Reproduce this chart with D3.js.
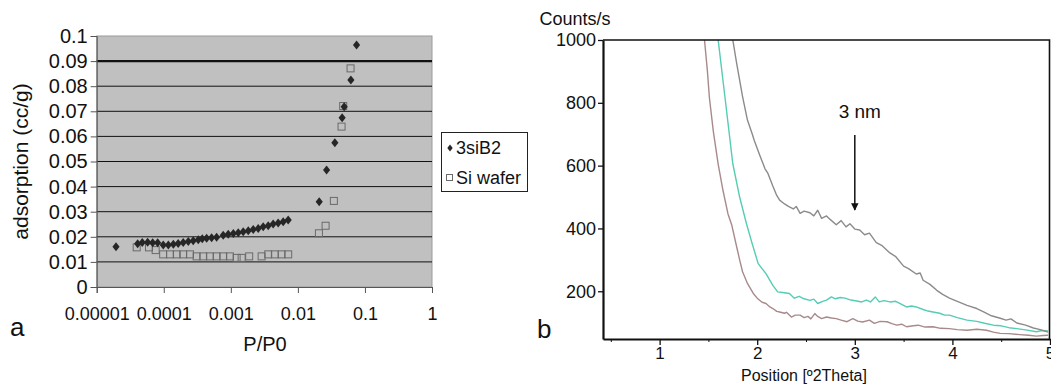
<!DOCTYPE html>
<html>
<head>
<meta charset="utf-8">
<script src="https://cdn.jsdelivr.net/npm/d3@7"></script>
<style>
  body { margin: 0; background: #fff; }
  svg { display: block; font-family: "Liberation Sans", Arial, sans-serif; }
</style>
</head>
<body>
<div id="chart"></div>
<script>
// ---- panel a: adsorption isotherm ----
var xTicksA = [0.00001, 0.0001, 0.001, 0.01, 0.1, 1];
var xTickLabelsA = ['0.00001', '0.0001', '0.001', '0.01', '0.1', '1'];
var yTicksA = [0, 0.01, 0.02, 0.03, 0.04, 0.05, 0.06, 0.07, 0.08, 0.09, 0.1];
var yTickLabelsA = ['0', '0.01', '0.02', '0.03', '0.04', '0.05', '0.06', '0.07', '0.08', '0.09', '0.1'];
var seriesNamesA = ['3siB2', 'Si wafer'];

var siB2P = [1.94e-5, 4.08e-5, 4.78e-5, 5.75e-5, 6.83e-5, 8.11e-5, 9.83e-5, 1.17e-4, 1.39e-4, 1.64e-4,
  1.95e-4, 2.32e-4, 2.75e-4, 3.27e-4, 3.75e-4, 4.36e-4, 5.17e-4, 6.14e-4, 7.7e-4, 9.15e-4,
  1.09e-3, 1.29e-3, 1.53e-3, 1.82e-3, 2.16e-3, 2.56e-3, 3.04e-3, 3.61e-3, 4.28e-3, 5.08e-3,
  6.04e-3, 7.17e-3, 0.0208, 0.0268, 0.0356, 0.0457, 0.049, 0.0617, 0.075];
var siB2V = [0.016, 0.0172, 0.0177, 0.0178, 0.0176, 0.0176, 0.0167, 0.0167, 0.017, 0.0173,
  0.0177, 0.0181, 0.0184, 0.0188, 0.0192, 0.0194, 0.0196, 0.0198, 0.0206, 0.021,
  0.0213, 0.0216, 0.022, 0.0224, 0.0229, 0.0233, 0.024, 0.0244, 0.0251, 0.0255,
  0.026, 0.0267, 0.034, 0.0466, 0.0575, 0.0674, 0.0718, 0.0825, 0.0964];

var waferP = [3.95e-5, 6.02e-5, 7.57e-5, 9.8e-5, 1.24e-4, 1.56e-4, 1.95e-4, 2.46e-4, 3.09e-4, 3.88e-4,
  4.88e-4, 6.14e-4, 7.71e-4, 9.7e-4, 1.22e-3, 1.45e-3, 1.88e-3, 2.88e-3, 3.61e-3, 4.54e-3,
  5.71e-3, 7.17e-3, 0.0206, 0.0259, 0.0344, 0.0448, 0.0474, 0.061];
var waferV = [0.0158, 0.0158, 0.0147, 0.013, 0.013, 0.013, 0.013, 0.013, 0.0122, 0.0122,
  0.0122, 0.0122, 0.0122, 0.0122, 0.0116, 0.0116, 0.0122, 0.0122, 0.013, 0.013,
  0.013, 0.013, 0.0214, 0.0244, 0.0343, 0.0639, 0.0721, 0.0871];

// ---- panel b: XRD counts ----
var xTicksB = [1, 2, 3, 4, 5];
var xMinorTicksB = [0.5, 1.5, 2.5, 3.5, 4.5];
var yTicksB = [200, 400, 600, 800, 1000];

var upperTheta = [1.75, 1.79, 1.85, 1.90, 1.95, 1.97, 2.03, 2.08, 2.11, 2.16, 2.20, 2.23, 2.28, 2.32, 2.37,
  2.40, 2.44, 2.48, 2.54, 2.58, 2.62, 2.66, 2.71, 2.75, 2.81, 2.86, 2.91, 2.95, 3.00, 3.05,
  3.10, 3.15, 3.22, 3.28, 3.36, 3.42, 3.50, 3.55, 3.63, 3.67, 3.70, 3.77, 3.84, 3.90, 3.97,
  4.05, 4.15, 4.25, 4.32, 4.40, 4.49, 4.55, 4.60, 4.66, 4.75, 4.83, 4.90, 4.98];
var upperCounts = [1000, 925, 820, 745, 700, 680, 630, 590, 575, 535, 505, 490, 478, 470, 462,
  470, 448, 455, 450, 440, 458, 432, 440, 428, 412, 425, 405, 415, 398, 395,
  380, 385, 355, 345, 322, 310, 280, 272, 255, 258, 235, 222, 203, 190, 178,
  168, 155, 145, 134, 122, 114, 108, 112, 99, 92, 83, 78, 70];

var middleTheta = [1.60, 1.67, 1.75, 1.82, 1.89, 1.95, 2.01, 2.09, 2.16, 2.21, 2.26, 2.33, 2.38, 2.43, 2.48,
  2.54, 2.58, 2.62, 2.67, 2.71, 2.76, 2.80, 2.85, 2.90, 2.96, 3.02, 3.07, 3.12, 3.16, 3.21,
  3.25, 3.30, 3.36, 3.42, 3.47, 3.53, 3.58, 3.63, 3.70, 3.75, 3.80, 3.87, 3.92, 3.97, 4.05,
  4.15, 4.25, 4.33, 4.42, 4.50, 4.58, 4.66, 4.75, 4.86, 4.92, 4.98];
var middleCounts = [1000, 817, 606, 500, 415, 350, 288, 256, 219, 198, 196, 193, 178, 184, 176,
  171, 175, 161, 168, 172, 182, 176, 180, 178, 172, 169, 166, 172, 166, 182,
  166, 170, 166, 168, 160, 150, 153, 150, 142, 137, 134, 130, 124, 124, 116,
  108, 104, 98, 92, 90, 84, 81, 77, 71, 75, 74];

var lowerTheta = [1.46, 1.49, 1.51, 1.55, 1.60, 1.65, 1.70, 1.74, 1.79, 1.82, 1.85, 1.90, 1.96, 2.00, 2.05,
  2.09, 2.13, 2.16, 2.20, 2.23, 2.28, 2.30, 2.35, 2.39, 2.44, 2.48, 2.52, 2.55, 2.59, 2.62,
  2.66, 2.71, 2.76, 2.81, 2.86, 2.92, 2.98, 3.03, 3.08, 3.15, 3.20, 3.26, 3.33, 3.38, 3.43,
  3.48, 3.53, 3.60, 3.65, 3.72, 3.80, 3.88, 3.97, 4.05, 4.15, 4.25, 4.35, 4.42, 4.49, 4.58,
  4.69, 4.78, 4.86, 4.93, 4.98];
var lowerCounts = [1000, 900, 817, 710, 605, 520, 447, 410, 341, 300, 262, 225, 193, 178, 165,
  161, 150, 145, 136, 134, 130, 133, 118, 124, 124, 116, 120, 112, 129, 120,
  113, 118, 115, 113, 108, 103, 113, 105, 102, 108, 98, 104, 103, 97, 92,
  95, 87, 90, 92, 86, 87, 82, 81, 78, 76, 79, 76, 70, 66, 65,
  62, 60, 57, 59, 60];

var svg = d3.select('#chart').append('svg')
  .attr('width', 1051)
  .attr('height', 385);

// ================= panel a =================
var xA = d3.scaleLog().domain([1e-5, 1]).range([96.7, 432]);
var yA = d3.scaleLinear().domain([0, 0.1]).range([287, 36]);

// plot background
svg.append('rect')
  .attr('x', xA(1e-5)).attr('y', yA(0.1))
  .attr('width', xA(1) - xA(1e-5)).attr('height', yA(0) - yA(0.1))
  .attr('fill', '#c0c0c0')
  .attr('stroke', '#9a9a9a');

// gridlines
svg.append('g')
  .selectAll('line')
  .data(yTicksA.filter(function (d) { return d > 0 && d < 0.1; }))
  .enter().append('line')
  .attr('x1', xA(1e-5)).attr('x2', xA(1))
  .attr('y1', function (d) { return yA(d); })
  .attr('y2', function (d) { return yA(d); })
  .attr('stroke', '#111')
  .attr('stroke-width', function (d) { return Math.abs(d - 0.09) < 1e-9 ? 2.2 : 1; });

// y axis
var yAxisA = svg.append('g')
  .attr('transform', 'translate(' + xA(1e-5) + ',0)')
  .call(d3.axisLeft(yA).tickValues(yTicksA).tickSize(6)
    .tickFormat(function (d, i) { return yTickLabelsA[i]; }));
yAxisA.select('.domain').attr('stroke', '#555');
yAxisA.selectAll('.tick line').attr('stroke', '#555');
yAxisA.selectAll('text')
  .attr('x', -9)
  .style('font-size', '20px')
  .attr('fill', '#111');

// x axis
var xAxisA = svg.append('g')
  .attr('transform', 'translate(0,' + yA(0) + ')')
  .call(d3.axisBottom(xA).tickValues(xTicksA).tickSize(6)
    .tickFormat(function (d, i) { return xTickLabelsA[i]; }));
xAxisA.select('.domain').attr('stroke', '#555');
xAxisA.selectAll('.tick line').attr('stroke', '#555');
xAxisA.selectAll('text')
  .attr('y', 20)
  .style('font-size', '18px')
  .attr('fill', '#111');

// axis titles
svg.append('text')
  .attr('transform', 'translate(28,' + ((yA(0) + yA(0.1)) / 2) + ') rotate(-90)')
  .attr('text-anchor', 'middle')
  .style('font-size', '21px')
  .attr('fill', '#111')
  .text('adsorption (cc/g)');

svg.append('text')
  .attr('x', 265).attr('y', 351)
  .attr('text-anchor', 'middle')
  .style('font-size', '20px')
  .attr('fill', '#111')
  .text('P/P0');

svg.append('text')
  .attr('x', 10).attr('y', 336)
  .style('font-size', '26px')
  .attr('fill', '#111')
  .text('a');

// custom squat diamond marker
var diamond = {
  draw: function (ctx, size) {
    var h = Math.sqrt(size) * 0.62, w = h * 0.8;
    ctx.moveTo(0, -h); ctx.lineTo(w, 0); ctx.lineTo(0, h); ctx.lineTo(-w, 0); ctx.closePath();
  }
};

// Si wafer squares
svg.append('g')
  .selectAll('rect')
  .data(waferP.map(function (p, i) { return [p, waferV[i]]; }))
  .enter().append('rect')
  .attr('x', function (d) { return xA(d[0]) - 3.5; })
  .attr('y', function (d) { return yA(d[1]) - 3.5; })
  .attr('width', 7).attr('height', 7)
  .attr('fill', 'none')
  .attr('stroke', '#6a6a6a')
  .attr('stroke-width', 1);

// 3siB2 diamonds
svg.append('g')
  .selectAll('path')
  .data(siB2P.map(function (p, i) { return [p, siB2V[i]]; }))
  .enter().append('path')
  .attr('d', d3.symbol().type(diamond).size(52))
  .attr('transform', function (d) { return 'translate(' + xA(d[0]) + ',' + yA(d[1]) + ')'; })
  .attr('fill', '#262626');

// legend
var legend = svg.append('g');
legend.append('rect')
  .attr('x', 441.5).attr('y', 132.5)
  .attr('width', 86).attr('height', 59)
  .attr('fill', '#fff')
  .attr('stroke', '#222');
legend.append('path')
  .attr('d', d3.symbol().type(diamond).size(30))
  .attr('transform', 'translate(450,148)')
  .attr('fill', '#262626');
legend.append('rect')
  .attr('x', 446.5).attr('y', 174.5)
  .attr('width', 6).attr('height', 6)
  .attr('fill', 'none')
  .attr('stroke', '#6a6a6a');
legend.selectAll('text')
  .data(seriesNamesA)
  .enter().append('text')
  .attr('x', 456)
  .attr('y', function (d, i) { return 154 + i * 30; })
  .style('font-size', '18px')
  .attr('fill', '#111')
  .text(function (d) { return d; });

// ================= panel b =================
var xB = d3.scaleLinear().domain([0.42, 5]).range([603, 1050]);
var yB = d3.scaleLinear().domain([48, 1000]).range([339, 40]);

svg.append('defs').append('clipPath').attr('id', 'clipB')
  .append('rect')
  .attr('x', xB(0.42)).attr('y', yB(1000))
  .attr('width', xB(5) - xB(0.42)).attr('height', yB(48) - yB(1000));

var line = d3.line()
  .x(function (d) { return xB(d[0]); })
  .y(function (d) { return yB(d[1]); });

var curves = [
  { theta: lowerTheta, counts: lowerCounts, color: '#a88a8c' },
  { theta: middleTheta, counts: middleCounts, color: '#55ccb4' },
  { theta: upperTheta, counts: upperCounts, color: '#8e8a8c' }
];

svg.append('g')
  .attr('clip-path', 'url(#clipB)')
  .selectAll('path')
  .data(curves)
  .enter().append('path')
  .attr('d', function (c) { return line(c.theta.map(function (t, i) { return [t, c.counts[i]]; })); })
  .attr('fill', 'none')
  .attr('stroke', function (c) { return c.color; })
  .attr('stroke-width', 1.4)
  .attr('stroke-linejoin', 'round');

// top and right frame
svg.append('path')
  .attr('d', 'M' + xB(0.42) + ',' + yB(1000) + 'H' + (xB(5) - 0.5) + 'V' + yB(48))
  .attr('fill', 'none')
  .attr('stroke', '#111')
  .attr('stroke-width', 1.6);

// y axis
var yAxisB = svg.append('g')
  .attr('transform', 'translate(' + xB(0.42) + ',0)')
  .call(d3.axisLeft(yB).tickValues(yTicksB).tickSize(5).tickSizeOuter(0).tickFormat(d3.format('d')));
yAxisB.select('.domain').attr('stroke', '#111').attr('stroke-width', 2.2);
yAxisB.selectAll('.tick line').attr('stroke', '#111').attr('stroke-width', 1.3);
yAxisB.selectAll('text')
  .attr('x', -7)
  .style('font-size', '18px')
  .attr('fill', '#111');

// x axis
var xAxisB = svg.append('g')
  .attr('transform', 'translate(0,' + yB(48) + ')')
  .call(d3.axisBottom(xB).tickValues(xTicksB).tickSize(6).tickSizeOuter(0).tickFormat(d3.format('d')));
xAxisB.select('.domain').attr('stroke', '#111').attr('stroke-width', 2.2);
xAxisB.selectAll('.tick line').attr('stroke', '#111').attr('stroke-width', 1.3);
xAxisB.selectAll('text')
  .attr('y', 8)
  .style('font-size', '17px')
  .attr('fill', '#111');

svg.append('g')
  .attr('transform', 'translate(0,' + yB(48) + ')')
  .call(d3.axisBottom(xB).tickValues(xMinorTicksB).tickSize(3).tickFormat(''))
  .call(function (g) { g.select('.domain').remove(); })
  .selectAll('line').attr('stroke', '#111');

svg.append('text')
  .attr('x', 575).attr('y', 25)
  .attr('text-anchor', 'middle')
  .style('font-size', '18px')
  .attr('fill', '#111')
  .text('Counts/s');

svg.append('text')
  .attr('x', 804).attr('y', 381)
  .attr('text-anchor', 'middle')
  .style('font-size', '16px')
  .attr('fill', '#111')
  .text('Position [º2Theta]');

svg.append('text')
  .attr('x', 537).attr('y', 338)
  .style('font-size', '26px')
  .attr('fill', '#111')
  .text('b');

// 3 nm annotation
svg.append('defs').append('marker')
  .attr('id', 'arrowHead')
  .attr('viewBox', '0 0 10 10')
  .attr('refX', 9).attr('refY', 5)
  .attr('markerWidth', 5).attr('markerHeight', 6)
  .attr('orient', 'auto')
  .append('path')
  .attr('d', 'M0,0L10,5L0,10Z')
  .attr('fill', '#111');

svg.append('text')
  .attr('x', xB(3) + 5).attr('y', 118)
  .attr('text-anchor', 'middle')
  .style('font-size', '19px')
  .attr('fill', '#111')
  .text('3 nm');

svg.append('line')
  .attr('x1', xB(3)).attr('x2', xB(3))
  .attr('y1', 135).attr('y2', 210)
  .attr('stroke', '#111')
  .attr('stroke-width', 1.5)
  .attr('marker-end', 'url(#arrowHead)');
</script>
</body>
</html>
